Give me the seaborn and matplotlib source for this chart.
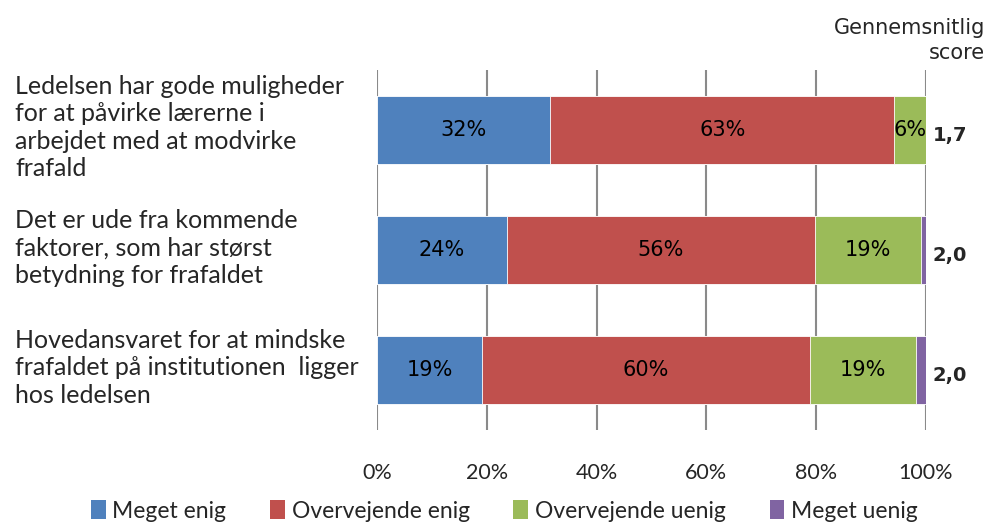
import numpy as np
import pandas as pd
import matplotlib
matplotlib.use("Agg")
import matplotlib.pyplot as plt
import matplotlib.transforms as mtransforms
from matplotlib.patches import Patch
import seaborn as sns

# data (percent of respondents)
statements = [
    "Ledelsen har gode muligheder\nfor at påvirke lærerne i\narbejdet med at modvirke\nfrafald",
    "Det er ude fra kommende\nfaktorer, som har størst\nbetydning for frafaldet",
    "Hovedansvaret for at mindske\nfrafaldet på institutionen  ligger\nhos ledelsen",
]
meget_enig = [31.6, 23.6, 19.1]
overvejende_enig = [62.6, 56.2, 59.8]
overvejende_uenig = [5.8, 19.3, 19.2]
meget_uenig = [0.0, 0.9, 1.9]
scores = ["1,7", "2,0", "2,0"]

series_names = ["Meget enig", "Overvejende enig", "Overvejende uenig", "Meget uenig"]
colors = ["#4F81BD", "#C0504D", "#9BBB59", "#8064A2"]

sns.set_style("white")
calibri_like = ["Lato", "DejaVu Sans"]
plt.rcParams["font.family"] = ["DejaVu Sans"]

df = pd.DataFrame({
    "statement": statements,
    series_names[0]: meget_enig,
    series_names[1]: overvejende_enig,
    series_names[2]: overvejende_uenig,
    series_names[3]: meget_uenig,
})
cum = df[series_names].cumsum(axis=1)

fig = plt.figure(figsize=(9.89, 5.25), dpi=100)
ax = fig.add_axes([377 / 989, 1 - 430 / 525, 549 / 989, 360 / 525])

# stacked bars: draw the cumulative totals from the right-most segment down
for name, col in zip(series_names[::-1], colors[::-1]):
    sns.barplot(x=cum[name], y=df["statement"], color=col, width=0.56,
                orient="h", ax=ax, edgecolor="white", linewidth=0.6, saturation=1)

# percentage labels
for i in range(len(statements)):
    left = 0
    for name in series_names:
        v = df.loc[i, name]
        if v >= 3:
            ax.text(left + v / 2, i, f"{v:.0f}%", ha="center", va="center",
                    fontsize=15, color="black")
        left += v

ax.set_xlim(0, 100)
ax.set_ylim(2.5, -0.5)
ax.set_xticks(np.arange(0, 101, 20))
ax.set_xticklabels([f"{t}%" for t in range(0, 101, 20)], family=calibri_like, fontsize=15.5)
ax.tick_params(axis="x", length=0, pad=24)
ax.set_yticks([])
ax.set_xlabel("")
ax.set_ylabel("")
for s in ax.spines.values():
    s.set_visible(False)
ax.set_axisbelow(True)
ax.grid(axis="x", color="#8a8a8a", linewidth=1.5)

# statement labels on the left
trans = mtransforms.blended_transform_factory(fig.transFigure, ax.transData)
for i, txt in enumerate(statements):
    ax.text(15 / 989, i - 0.02, txt, transform=trans, ha="left", va="center",
            family=calibri_like, fontsize=18, linespacing=1.24)

# average score to the right of each bar
trans2 = mtransforms.blended_transform_factory(ax.transAxes, ax.transData)
for i, sc in enumerate(scores):
    ax.text(1.012, i + 0.05, sc, transform=trans2, ha="left", va="center",
            fontsize=14, fontweight="bold")

fig.text(985 / 989, 1 - 18 / 525, "Gennemsnitlig\nscore", ha="right", va="top",
         fontsize=15, linespacing=1.3)

handles = [Patch(facecolor=c, edgecolor="none") for c in colors]
fig.legend(handles, series_names, loc="center", bbox_to_anchor=(0.51, 1 - 511 / 525),
           ncol=4, frameon=False, prop={"family": calibri_like, "size": 16.5},
           handlelength=0.65, handleheight=0.85, handletextpad=0.3, columnspacing=1.9)

fig.savefig("out.png", dpi=100)
